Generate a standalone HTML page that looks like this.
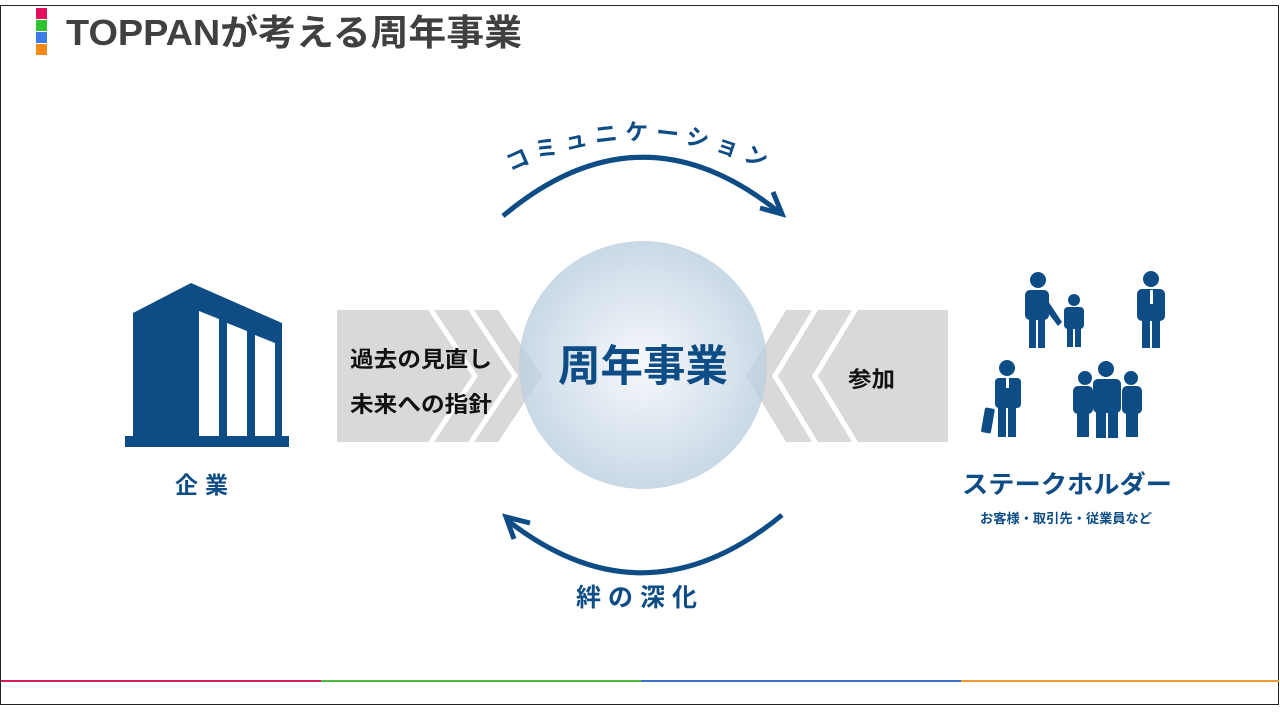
<!DOCTYPE html>
<html><head><meta charset="utf-8"><style>
body{margin:0;width:1280px;height:720px;background:#fff;overflow:hidden;font-family:"Liberation Sans","Noto Sans CJK JP",sans-serif}
svg{position:absolute;left:0;top:0}
</style></head><body>
<svg width="1280" height="720" viewBox="0 0 1280 720" font-family="Liberation Sans, Noto Sans CJK JP, sans-serif">
<defs>
<radialGradient id="g" cx="50%" cy="50%" r="50%">
<stop offset="0" stop-color="#f4f7fb"/><stop offset="1" stop-color="#bccfe0"/>
</radialGradient>
</defs>
<rect x="0.5" y="5.5" width="1278" height="699" fill="none" stroke="#222" stroke-width="1"/>
<rect x="36" y="8" width="11" height="11" fill="#e0105c"/>
<rect x="36" y="20" width="11" height="11" fill="#2ec32e"/>
<rect x="36" y="32" width="11" height="11" fill="#3a7de8"/>
<rect x="36" y="44" width="11" height="11" fill="#f78a14"/>
<text x="66" y="45" font-size="36" font-weight="bold" fill="#404040" textLength="456" lengthAdjust="spacingAndGlyphs">TOPPANが考える周年事業</text>
<rect x="1" y="680" width="320" height="2" fill="#d81b5a"/>
<rect x="321" y="680" width="320" height="2" fill="#4cbb3e"/>
<rect x="641" y="680" width="320" height="2" fill="#3d6fd0"/>
<rect x="961" y="680" width="318" height="2" fill="#f39a2c"/>
<polygon points="337,310 428,310 472,376 428,442 337,442" fill="#d9d9d9"/>
<polygon points="434,310 468,310 512,376 468,442 434,442 478,376" fill="#d9d9d9"/>
<polygon points="474,310 498,310 542,376 498,442 474,442 518,376" fill="#d9d9d9"/>
<polygon points="948,310 858,310 818,376 858,442 948,442" fill="#d9d9d9"/>
<polygon points="852,310 818,310 778,376 818,442 852,442 812,376" fill="#d9d9d9"/>
<polygon points="812,310 786,310 746,376 786,442 812,442 772,376" fill="#d9d9d9"/>
<circle cx="643" cy="365" r="124" fill="url(#g)" opacity="0.8"/>
<text x="558" y="381" font-size="43" font-weight="bold" fill="#0d4c85" textLength="170" lengthAdjust="spacingAndGlyphs">周年事業</text>
<text x="350" y="367" font-size="22" font-weight="bold" fill="#111" textLength="142" lengthAdjust="spacingAndGlyphs">過去の見直し</text>
<text x="350" y="412" font-size="22" font-weight="bold" fill="#111" textLength="142" lengthAdjust="spacingAndGlyphs">未来への指針</text>
<text x="848" y="387" font-size="22" font-weight="bold" fill="#111" textLength="47" lengthAdjust="spacingAndGlyphs">参加</text>
<path d="M503,216 Q641,100 780,213" fill="none" stroke="#0d4c85" stroke-width="5"/>
<polyline points="760,208 782,214 773,192" fill="none" stroke="#0d4c85" stroke-width="5"/>
<path id="tp" d="M470,195 Q641,85 810,195" fill="none"/>
<text font-size="23" fill="#0d4c85" font-weight="bold" letter-spacing="7"><textPath href="#tp" startOffset="50%" text-anchor="middle">コミュニケーション</textPath></text>
<path d="M782,515 Q645,628 507,520" fill="none" stroke="#0d4c85" stroke-width="5"/>
<polyline points="530,523 506,517 514,539" fill="none" stroke="#0d4c85" stroke-width="5"/>
<text x="640" y="606" font-size="25" font-weight="bold" fill="#0d4c85" text-anchor="middle" letter-spacing="7">絆の深化</text>
<polygon points="133,313 191,283 282,323 282,438 133,438" fill="#0d4c85"/>
<rect x="125" y="436" width="164" height="11" fill="#0d4c85"/>
<polygon points="199,311 219,319 219,436 199,436" fill="#fff"/>
<polygon points="227,323 247,331 247,436 227,436" fill="#fff"/>
<polygon points="255,335 275,343 275,436 255,436" fill="#fff"/>
<text x="205" y="493" font-size="23" font-weight="bold" fill="#0d4c85" text-anchor="middle" letter-spacing="7">企業</text>
<g fill="#0d4c85">
<circle cx="1038" cy="280" r="8"/><rect x="1025" y="290" width="24" height="30" rx="5"/><rect x="1029" y="315" width="7" height="33"/><rect x="1038" y="315" width="7" height="33"/>
<polygon points="1044,295 1062,322 1058,326 1042,305"/>
<circle cx="1074" cy="300" r="6"/><rect x="1064" y="307" width="20" height="22" rx="4"/><rect x="1067" y="325" width="6" height="22"/><rect x="1075" y="325" width="6" height="22"/>
<circle cx="1151" cy="279" r="8"/><rect x="1137" y="289" width="28" height="32" rx="5"/><rect x="1142" y="315" width="8" height="33"/><rect x="1152" y="315" width="8" height="33"/>
<circle cx="1007" cy="368" r="8"/><rect x="995" y="378" width="26" height="30" rx="4"/><rect x="998" y="405" width="8" height="32"/><rect x="1008" y="405" width="8" height="32"/>
<rect x="983" y="408" width="10" height="25" rx="2" transform="rotate(10 988 420)"/>
<circle cx="1085" cy="378" r="7"/><rect x="1073" y="386" width="20" height="28" rx="5"/><rect x="1077" y="410" width="12" height="27"/>
<circle cx="1131" cy="378" r="7"/><rect x="1122" y="386" width="20" height="28" rx="5"/><rect x="1126" y="410" width="12" height="27"/>
<circle cx="1106" cy="369" r="8"/><rect x="1093" y="379" width="28" height="34" rx="5"/><rect x="1096" y="410" width="10" height="28"/><rect x="1108" y="410" width="10" height="28"/>
</g>
<g fill="#fff"><rect x="1150" y="290" width="3" height="14"/><rect x="1006" y="378" width="3" height="10"/></g>
<text x="962" y="493" font-size="25" font-weight="bold" fill="#0d4c85" textLength="210" lengthAdjust="spacingAndGlyphs">ステークホルダー</text>
<text x="980" y="523" font-size="13" font-weight="bold" fill="#0d4c85" textLength="172" lengthAdjust="spacingAndGlyphs">お客様・取引先・従業員など</text>
</svg>
</body></html>
